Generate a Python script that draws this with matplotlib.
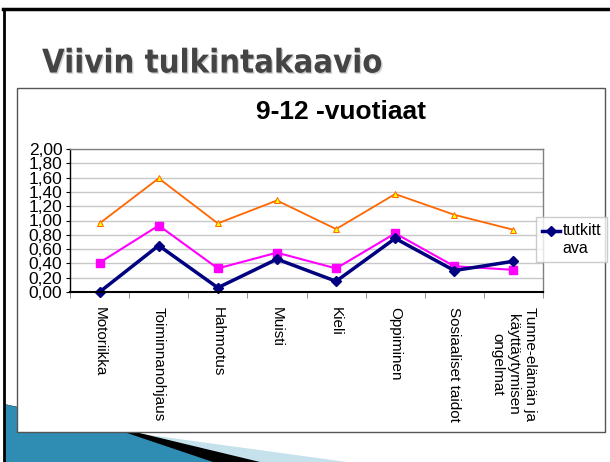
import numpy as np
import matplotlib
matplotlib.use('Agg')
import matplotlib.pyplot as plt
import matplotlib.patheffects as pe
from matplotlib.patches import Rectangle, Polygon
from matplotlib.lines import Line2D

# data
categories = ['Motoriikka', 'Toiminnanohjaus', 'Hahmotus', 'Muisti', 'Kieli',
              'Oppiminen', 'Sosiaaliset taidot',
              'Tunne-elämän ja\nkäyttäytymisen\nongelmat']
tutkittava = [0.00, 0.65, 0.06, 0.46, 0.15, 0.75, 0.30, 0.43]
sarja2 = [0.41, 0.93, 0.33, 0.55, 0.33, 0.82, 0.36, 0.31]
sarja3 = [0.96, 1.59, 0.96, 1.28, 0.88, 1.37, 1.08, 0.87]
yticks = [0.0, 0.2, 0.4, 0.6, 0.8, 1.0, 1.2, 1.4, 1.6, 1.8, 2.0]
ylabels = ['%.2f' % v for v in yticks]
ylabels = [s.replace('.', ',') for s in ylabels]

W, H = 610, 462
fig = plt.figure(figsize=(W / 100, H / 100), dpi=100)


def fx(x):
    return x / W


def fy(y):
    return 1 - y / H


def poly(pts, color):
    p = Polygon([(fx(a), fy(b)) for a, b in pts], closed=True,
                transform=fig.transFigure, fc=color, ec='none', zorder=-3)
    fig.add_artist(p)


# slide background: the swoosh in the lower left corner
poly([(120, 431), (347, 462), (4, 462)], '#c5e1ec')
poly([(4, 404), (127, 430), (260, 462), (4, 462)], 'black')
poly([(4, 404), (60, 417), (127, 433), (213, 462), (4, 462)], '#2f8db3')

# slide frame
fig.add_artist(Line2D([fx(3), fx(610)], [fy(9), fy(9)], transform=fig.transFigure,
                      color='black', lw=2.5, zorder=5))
fig.add_artist(Line2D([fx(4), fx(4)], [fy(9), fy(462)], transform=fig.transFigure,
                      color='black', lw=2, zorder=5))

# slide title
fig.text(fx(42), fy(63), 'Viivin tulkintakaavio', ha='left', va='center',
         fontsize=23.5, weight='bold', fontstretch='condensed', color='#444444',
         family='DejaVu Sans',
         path_effects=[pe.withSimplePatchShadow(offset=(1, -1), shadow_rgbFace='#c0c0c0', alpha=0.7)])

# chart box
box = Rectangle((fx(17), fy(432)), (605 - 17) / W, (432 - 88) / H,
                transform=fig.transFigure, fc='white', ec='#555555', lw=1, zorder=-1)
fig.add_artist(box)

fig.text(fx(341), fy(112), '9-12 -vuotiaat', ha='center', va='center',
         fontsize=19, weight='bold', family='Liberation Sans')

ax = fig.add_axes([fx(70), fy(292), (543 - 70) / W, (292 - 149) / H])
x = np.arange(len(categories))
ax.plot(x, sarja3, color='#ff6600', lw=1.3, marker='^', ms=4.5,
        mfc='#ffff00', mec='#ff6600', mew=0.7, clip_on=False)
ax.plot(x, sarja2, color='#ff00ff', lw=1.5, marker='s', ms=5.5, clip_on=False)
ax.plot(x, tutkittava, color='#000080', lw=2.5, marker='D', ms=5,
        clip_on=False, label='tutkitt\nava')

ax.set_xlim(-0.5, len(categories) - 0.5)
ax.set_ylim(0, 2)
ax.set_yticks(yticks)
ax.set_yticklabels(ylabels, fontsize=12.5, family='Liberation Sans')
ax.tick_params(axis='y', length=3, pad=2.5)

ax.set_xticks(x)
ax.set_xticklabels(categories, rotation=-90, fontsize=11, family='Liberation Sans',
                   va='top', ha='center', multialignment='center')
ax.set_xticks(np.arange(-0.5, len(categories), 1), minor=True)
ax.tick_params(axis='x', which='major', length=0, pad=11)
ax.tick_params(axis='x', which='minor', length=4, color='#808080')

ax.yaxis.grid(True, color='#c8c8c8', lw=1)
ax.set_axisbelow(True)
for s in ['top', 'right']:
    ax.spines[s].set_color('#808080')
    ax.spines[s].set_linewidth(1)
ax.spines['left'].set_linewidth(1)
ax.spines['bottom'].set_linewidth(1.5)

leg = ax.legend(loc='upper left', bbox_to_anchor=(fx(536), fy(217)),
                bbox_transform=fig.transFigure, prop={'family': 'Liberation Sans', 'size': 11.5},
                frameon=True, fancybox=False, edgecolor='#c0c0c0', handlelength=1.1,
                handletextpad=0.15, borderpad=0.4, borderaxespad=0)
leg.get_frame().set_linewidth(1)
# put the legend line next to the first text line, as in the original
hl = leg.legend_handles[0]
hl.set_ydata(np.asarray(hl.get_ydata()) + 6.5)

fig.savefig('out.png', dpi=100)
